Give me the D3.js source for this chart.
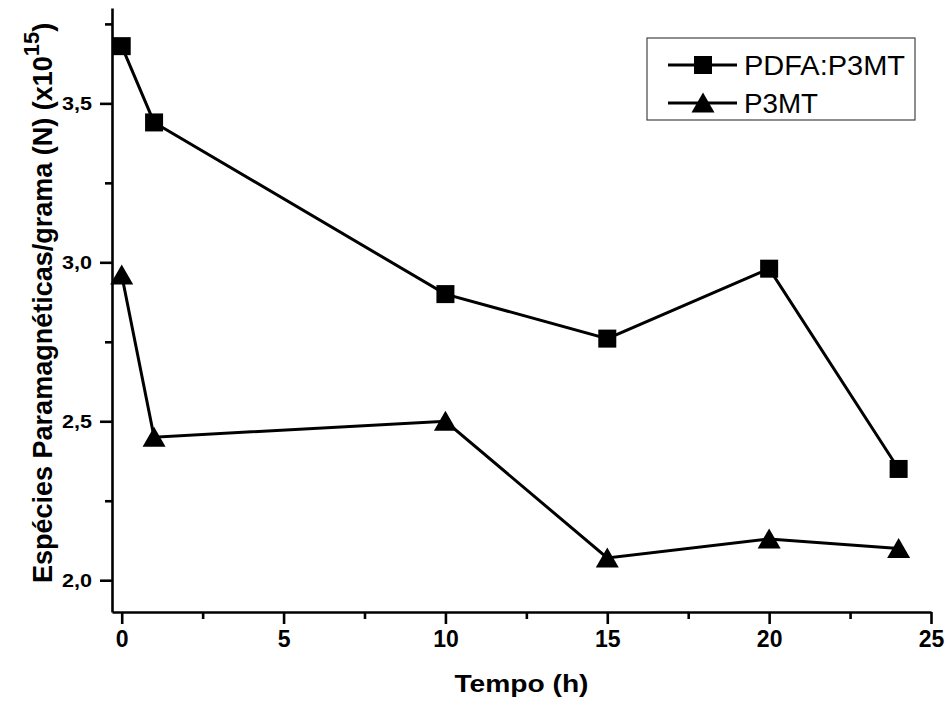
<!DOCTYPE html>
<html>
<head>
<meta charset="utf-8">
<script src="https://cdn.jsdelivr.net/npm/d3@7"></script>
<style>
  html, body { margin: 0; padding: 0; background: #fff; }
  svg { display: block; font-family: "Liberation Sans", Arial, sans-serif; }
</style>
</head>
<body>
<svg id="chart" width="947" height="706"></svg>
<script>
// Paramagnetic species per gram over time
const times = [0, 1, 10, 15, 20, 24];
const pdfaP3mt = [3.68, 3.44, 2.90, 2.76, 2.98, 2.35];
const p3mt = [2.96, 2.45, 2.50, 2.07, 2.13, 2.10];
const seriesNames = ["PDFA:P3MT", "P3MT"];
const xTicks = [0, 5, 10, 15, 20, 25];
const yTicks = [2.0, 2.5, 3.0, 3.5];

const svg = d3.select("#chart");
const plotLeft = 112, plotRight = 931, plotTop = 8, plotBottom = 612;

const x = d3.scaleLinear().domain([-0.3, 25]).range([plotLeft, plotRight]);
const y = d3.scaleLinear().domain([1.9, 3.8]).range([plotBottom, plotTop]);

const fmt = d => d3.format(".1f")(d).replace(".", ",");

// X axis: major ticks with labels, minor ticks between them
const xMinor = d3.range(2.5, 25, 5);
const gx = svg.append("g").attr("transform", `translate(0,${plotBottom})`);
gx.call(d3.axisBottom(x).tickValues(xTicks).tickSize(12).tickSizeOuter(0).tickPadding(7).tickFormat(d3.format("d")));
gx.append("g").call(d3.axisBottom(x).tickValues(xMinor).tickSize(7).tickSizeOuter(0).tickFormat(""))
  .select(".domain").remove();
gx.selectAll("text").attr("font-size", 23).attr("font-weight", "bold").attr("fill", "#000")
  .attr("font-family", "Liberation Sans, Arial, sans-serif");

// Y axis
const yMinor = [2.25, 2.75, 3.25, 3.75];
const gy = svg.append("g").attr("transform", `translate(${plotLeft},0)`);
gy.call(d3.axisLeft(y).tickValues(yTicks).tickSize(12).tickSizeOuter(0).tickPadding(8).tickFormat(fmt));
gy.append("g").call(d3.axisLeft(y).tickValues(yMinor).tickSize(7).tickSizeOuter(0).tickFormat(""))
  .select(".domain").remove();
gy.selectAll("text").attr("font-size", 19).attr("font-weight", "bold").attr("fill", "#000")
  .attr("textLength", 30).attr("lengthAdjust", "spacingAndGlyphs")
  .attr("font-family", "Liberation Sans, Arial, sans-serif");

svg.selectAll(".domain").attr("stroke", "#000").attr("stroke-width", 2.6);
svg.selectAll(".tick line").attr("stroke", "#000").attr("stroke-width", 2.6);

// Axis titles
svg.append("text")
  .attr("x", (plotLeft + plotRight) / 2).attr("y", 692)
  .attr("text-anchor", "middle")
  .attr("font-size", 23).attr("font-weight", "bold")
  .attr("textLength", 134).attr("lengthAdjust", "spacingAndGlyphs")
  .text("Tempo (h)");

const yt = svg.append("text")
  .attr("transform", "translate(52,583) rotate(-90)")
  .attr("font-size", 27).attr("font-weight", "bold");
yt.append("tspan").text("Espécies Paramagnéticas/grama (N) (x10");
yt.append("tspan").attr("font-size", 22).attr("dy", -13).text("15");
yt.append("tspan").attr("dy", 13).text(")");

// Series lines and markers
const line = d3.line().x(d => x(d[0])).y(d => y(d[1]));
const sq = 18;
const triPath = "M0,-10.5L11.5,9.5L-11.5,9.5Z";

const dataA = times.map((t, i) => [t, pdfaP3mt[i]]);
const dataB = times.map((t, i) => [t, p3mt[i]]);

[dataA, dataB].forEach(dat => {
  svg.append("path").datum(dat).attr("d", line)
    .attr("fill", "none").attr("stroke", "#000").attr("stroke-width", 3);
});

svg.append("g").selectAll("rect").data(dataA).join("rect")
  .attr("x", d => x(d[0]) - sq / 2).attr("y", d => y(d[1]) - sq / 2)
  .attr("width", sq).attr("height", sq).attr("fill", "#000");

svg.append("g").selectAll("path").data(dataB).join("path")
  .attr("d", triPath)
  .attr("transform", d => `translate(${x(d[0])},${y(d[1])})`)
  .attr("fill", "#000");

// Legend
const lg = svg.append("g");
lg.append("rect").attr("x", 647).attr("y", 38).attr("width", 268).attr("height", 82)
  .attr("fill", "#fff").attr("stroke", "#444").attr("stroke-width", 1.2);
const rows = [65, 103];
const labelWidths = [161, 74];
rows.forEach((ry, i) => {
  lg.append("line").attr("x1", 668).attr("x2", 737).attr("y1", ry).attr("y2", ry)
    .attr("stroke", "#000").attr("stroke-width", 3);
  if (i === 0) {
    lg.append("rect").attr("x", 703 - sq / 2).attr("y", ry - sq / 2)
      .attr("width", sq).attr("height", sq).attr("fill", "#000");
  } else {
    lg.append("path").attr("d", triPath).attr("transform", `translate(703,${ry})`).attr("fill", "#000");
  }
  lg.append("text").attr("x", 744).attr("y", ry + 10)
    .attr("font-size", 28).attr("fill", "#000")
    .attr("textLength", labelWidths[i]).attr("lengthAdjust", "spacingAndGlyphs")
    .text(seriesNames[i]);
});
</script>
</body>
</html>
